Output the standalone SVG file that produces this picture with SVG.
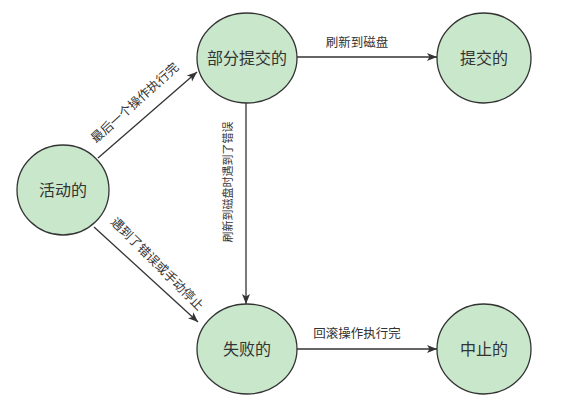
<svg xmlns="http://www.w3.org/2000/svg" width="572" height="403" viewBox="0 0 572 403">
<style>
.n ellipse{fill:#c9e7cb;stroke:#333;stroke-width:1.3}
.n text{font-family:"Liberation Sans","Noto Sans CJK SC",sans-serif;font-size:16px;fill:#333;text-anchor:middle;dominant-baseline:central}
.e line{stroke:#333;stroke-width:1.3;marker-end:url(#a)}
.e text{font-family:"Liberation Sans","Noto Sans CJK SC",sans-serif;font-size:12.5px;fill:#333;text-anchor:middle;dominant-baseline:central}
</style>
<defs>
<marker id="a" viewBox="0 0 10 10" refX="10" refY="5" markerWidth="10" markerHeight="10" markerUnits="userSpaceOnUse" orient="auto">
<path d="M0,1 L10,5 L0,9 L2.5,5 Z" fill="#333"/>
</marker>
</defs>
<rect width="572" height="403" fill="#fff"/>
<g id="edges" class="e">
<line x1="98" y1="158" x2="197" y2="72"/>
<text transform="translate(135,103) rotate(-42)">最后一个操作执行完</text>
<line x1="94" y1="227" x2="198" y2="322"/>
<text transform="translate(157,264) rotate(45)">遇到了错误或手动停止</text>
<line x1="297" y1="57" x2="437" y2="57"/>
<text x="357" y="43">刷新到磁盘</text>
<line x1="246" y1="103" x2="246" y2="304"/>
<text transform="translate(228,182) rotate(-90)" style="font-size:11px">刷新到磁盘时遇到了错误</text>
<line x1="297" y1="349" x2="437" y2="349"/>
<text x="357" y="334">回滚操作执行完</text>
</g>
<g id="active" class="n"><ellipse cx="63" cy="190" rx="46" ry="45"/><text x="63" y="190">活动的</text></g>
<g id="partial" class="n"><ellipse cx="247" cy="58" rx="50" ry="45"/><text x="247" y="58">部分提交的</text></g>
<g id="committed" class="n"><ellipse cx="484" cy="58" rx="47" ry="45"/><text x="484" y="58">提交的</text></g>
<g id="failed" class="n"><ellipse cx="247" cy="349" rx="50" ry="45"/><text x="247" y="349">失败的</text></g>
<g id="aborted" class="n"><ellipse cx="484" cy="349" rx="47" ry="45"/><text x="484" y="349">中止的</text></g>
</svg>
